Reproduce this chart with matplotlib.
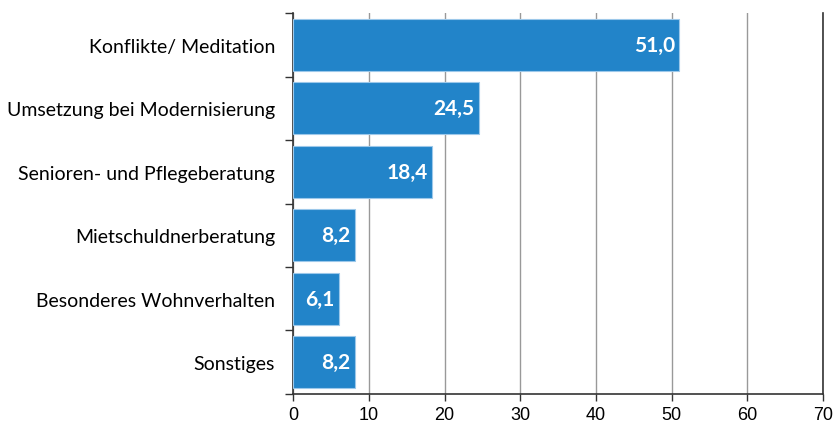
import numpy as np
import matplotlib.pyplot as plt

categories = ['Konflikte/ Meditation', 'Umsetzung bei Modernisierung',
              'Senioren- und Pflegeberatung', 'Mietschuldnerberatung',
              'Besonderes Wohnverhalten', 'Sonstiges']
values = [51.0, 24.5, 18.4, 8.2, 6.1, 8.2]

fig = plt.figure(figsize=(8.4, 4.27), dpi=100)
ax = fig.add_axes([0.349, 0.075, 0.631, 0.892])

y = np.arange(len(categories))
ax.barh(y, values, height=0.82, color='#2284c9', edgecolor='#9cc8ea', linewidth=0.8, zorder=3)

# value labels inside the bar ends
for yi, v in zip(y, values):
    ax.text(v - 0.6, yi, f'{v:.1f}'.replace('.', ','), ha='right', va='center',
            color='white', fontsize=15, fontweight='bold', family='Lato', zorder=4)

ax.set_ylim(len(categories) - 0.5, -0.5)
ax.set_xlim(0, 70)
ax.set_xticks(np.arange(0, 71, 10))
ax.set_yticks(y)
ax.set_yticklabels(categories, family='Lato', fontsize=14)
ax.set_yticks(np.arange(-0.5, len(categories), 1), minor=True)
ax.tick_params(axis='y', which='major', length=0, pad=13)
ax.tick_params(axis='y', which='minor', length=6, width=1, color='#333333')
ax.tick_params(axis='x', length=5, width=1, color='#333333', labelsize=13,
               labelfontfamily='Liberation Sans')

ax.grid(axis='x', color='#999999', linewidth=1, zorder=0)
ax.spines['top'].set_visible(False)
for s in ['right', 'left', 'bottom']:
    ax.spines[s].set_color('#333333')
    ax.spines[s].set_linewidth(1.2)

plt.savefig('out.png', dpi=100)
